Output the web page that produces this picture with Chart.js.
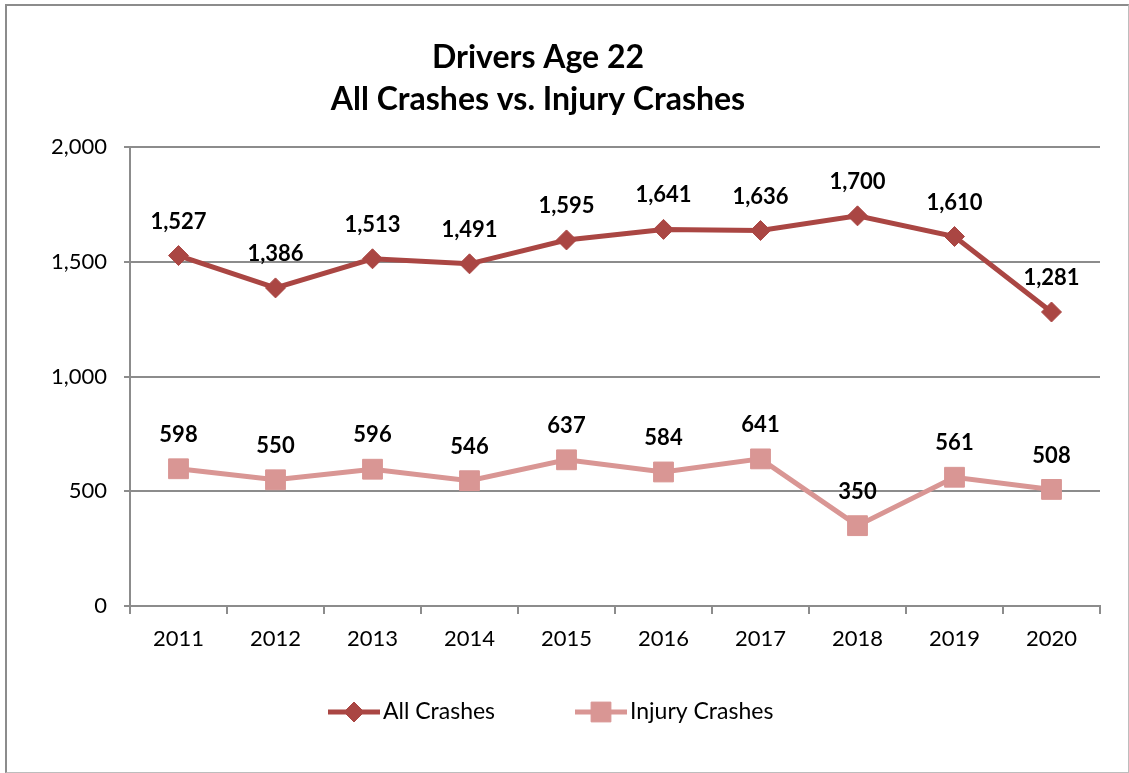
<!DOCTYPE html>
<html>
<head>
<meta charset="utf-8">
<script src="https://cdn.jsdelivr.net/npm/chart.js@4.4.0/dist/chart.umd.min.js"></script>
<style>
html, body { margin: 0; padding: 0; background: #fff; overflow: hidden; }
#frame { position: absolute; left: 5px; top: 4px; width: 1124px; height: 769px;
         box-sizing: border-box; background: #fff;
         border-left: 2px solid #8c8c8c; border-top: 2px solid #8c8c8c;
         border-right: 1px solid #bdbdbd; border-bottom: 1px solid #bdbdbd; }
canvas { display: block; }
</style>
</head>
<body>
<div id="frame"><canvas id="chart" width="1121" height="766"></canvas></div>
<script>
// Données
const years = ['2011', '2012', '2013', '2014', '2015', '2016', '2017', '2018', '2019', '2020'];
const allCrashes = [1527, 1386, 1513, 1491, 1595, 1641, 1636, 1700, 1610, 1281];
const injuryCrashes = [598, 550, 596, 546, 637, 584, 641, 350, 561, 508];
const titleLines = ['Drivers Age 22', 'All Crashes vs. Injury Crashes'];
const seriesNames = ['All Crashes', 'Injury Crashes'];

const FONT = 'Lato, "Open Sans", sans-serif';
const darkRed = '#AA4643';
const lightRed = '#D99694';
const gridGray = '#8c8c8c';

const fmt = v => Number(v).toLocaleString('en-US');

// Titre sur deux lignes
const titlePlugin = {
    id: 'titleLines',
    afterDraw(chart) {
        const ctx = chart.ctx;
        ctx.save();
        ctx.fillStyle = '#000';
        ctx.font = 'bold 32px ' + FONT;
        ctx.textAlign = 'center';
        ctx.textBaseline = 'middle';
        titleLines.forEach((line, i) => ctx.fillText(line, 531, 52 + i * 42));
        ctx.restore();
    }
};

// Étiquettes de valeurs au-dessus des points
const labelPlugin = {
    id: 'valueLabels',
    afterDatasetsDraw(chart) {
        const ctx = chart.ctx;
        ctx.save();
        ctx.fillStyle = '#000';
        ctx.font = 'bold 22px ' + FONT;
        ctx.textAlign = 'center';
        ctx.textBaseline = 'middle';
        chart.data.datasets.forEach((ds, di) => {
            chart.getDatasetMeta(di).data.forEach((pt, i) => {
                ctx.fillText(fmt(ds.data[i]), pt.x, pt.y - 34);
            });
        });
        ctx.restore();
    }
};

// Légende en bas : trait + marqueur + texte
const legendPlugin = {
    id: 'lineLegend',
    afterDraw(chart) {
        const ctx = chart.ctx;
        const y = 706;
        const starts = [321, 568];
        ctx.save();
        ctx.font = '23px ' + FONT;
        ctx.textBaseline = 'middle';
        ctx.textAlign = 'left';
        chart.data.datasets.forEach((ds, i) => {
            const x0 = starts[i];
            ctx.strokeStyle = ds.borderColor;
            ctx.lineWidth = ds.borderWidth;
            ctx.beginPath();
            ctx.moveTo(x0, y);
            ctx.lineTo(x0 + 52, y);
            ctx.stroke();
            ctx.fillStyle = ds.pointBackgroundColor;
            ctx.strokeStyle = ds.pointBorderColor;
            ctx.lineWidth = 1;
            Chart.helpers.drawPoint(ctx, { pointStyle: ds.pointStyle, radius: ds.pointRadius, borderWidth: 1 }, x0 + 26, y);
            ctx.fillStyle = '#000';
            ctx.fillText(ds.label, x0 + 55, y);
        });
        ctx.restore();
    }
};

new Chart(document.getElementById('chart'), {
    type: 'line',
    data: {
        labels: years,
        datasets: [
            {
                label: seriesNames[0],
                data: allCrashes,
                borderColor: darkRed,
                borderWidth: 5,
                pointStyle: 'rectRot',
                pointRadius: 10,
                pointBackgroundColor: darkRed,
                pointBorderColor: darkRed,
                pointBorderWidth: 1,
                tension: 0
            },
            {
                label: seriesNames[1],
                data: injuryCrashes,
                borderColor: lightRed,
                borderWidth: 5,
                pointStyle: 'rect',
                pointRadius: 14,
                pointBackgroundColor: lightRed,
                pointBorderColor: lightRed,
                pointBorderWidth: 1,
                tension: 0
            }
        ]
    },
    options: {
        responsive: false,
        animation: false,
        layout: { padding: { top: 141, right: 28, bottom: 116, left: 0 } },
        plugins: {
            legend: { display: false },
            title: { display: false },
            tooltip: { enabled: false }
        },
        scales: {
            x: {
                offset: true,
                grid: { drawOnChartArea: false, drawTicks: true, offset: true, tickLength: 8, color: gridGray, lineWidth: 2 },
                border: { display: true, color: gridGray, width: 2 },
                ticks: { color: '#000', font: { family: FONT, size: 22 }, padding: 12, maxRotation: 0 },
                afterFit: s => { s.height = 50; }
            },
            y: {
                min: 0,
                max: 2000,
                ticks: { stepSize: 500, color: '#000', font: { family: FONT, size: 22 }, padding: 17, callback: v => fmt(v) },
                grid: { color: gridGray, lineWidth: 2, tickLength: 6 },
                border: { display: true, color: gridGray, width: 2 },
                afterFit: s => { s.width = 123; }
            }
        }
    },
    plugins: [titlePlugin, labelPlugin, legendPlugin]
});
</script>
</body>
</html>
